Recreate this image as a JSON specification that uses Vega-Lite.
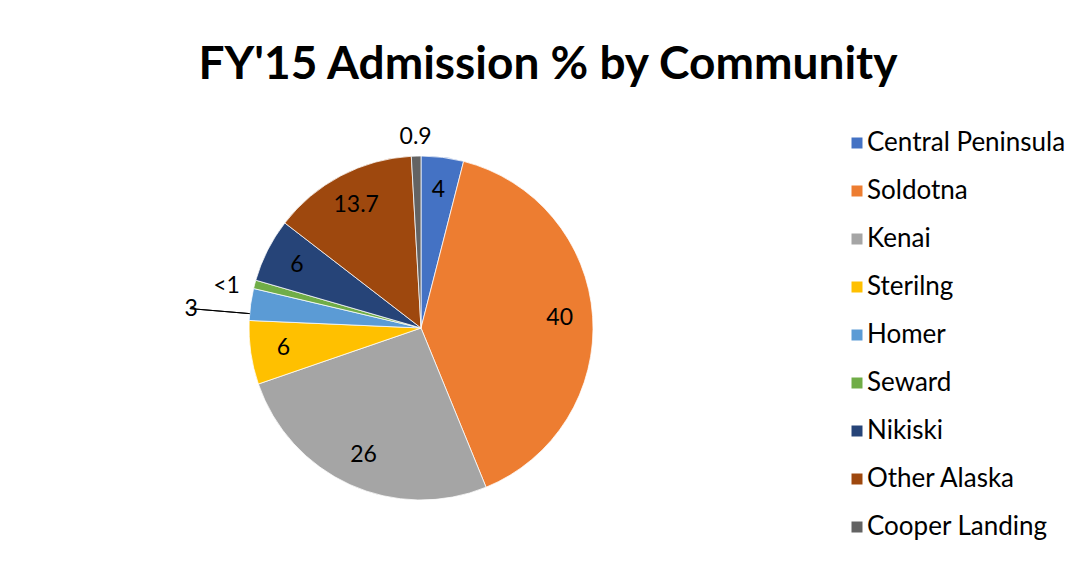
{
  "$schema": "https://vega.github.io/schema/vega-lite/v6.json",
  "autosize": "none",
  "width": 344,
  "height": 344,
  "padding": {"left": 249, "top": 156, "right": 491, "bottom": 61},
  "background": "white",
  "title": {
    "text": "FY'15 Admission % by Community",
    "anchor": "middle",
    "frame": "group",
    "dx": 127,
    "offset": 9,
    "font": "Lato",
    "fontSize": 46,
    "fontWeight": "bold",
    "color": "#000000"
  },
  "data": {
    "values": [
      {"name": "Central Peninsula", "value": 4, "label": "4"},
      {"name": "Soldotna", "value": 40, "label": "40"},
      {"name": "Kenai", "value": 26, "label": "26"},
      {"name": "Sterilng", "value": 6, "label": "6"},
      {"name": "Homer", "value": 3, "label": "3"},
      {"name": "Seward", "value": 0.8, "label": "<1"},
      {"name": "Nikiski", "value": 6, "label": "6"},
      {"name": "Other Alaska", "value": 13.7, "label": "13.7"},
      {"name": "Cooper Landing", "value": 0.9, "label": "0.9"}
    ]
  },
  "transform": [{"window": [{"op": "row_number", "as": "idx"}]}],
  "layer": [
    {
      "mark": {"type": "arc", "outerRadius": 172, "stroke": "#ffffff", "strokeWidth": 0.75},
      "encoding": {
        "theta": {"field": "value", "type": "quantitative", "stack": true},
        "order": {"field": "idx", "type": "quantitative"},
        "color": {
          "field": "name",
          "type": "nominal",
          "scale": {
            "domain": ["Central Peninsula", "Soldotna", "Kenai", "Sterilng", "Homer", "Seward", "Nikiski", "Other Alaska", "Cooper Landing"],
            "range": ["#4472C4", "#ED7D31", "#A5A5A5", "#FFC000", "#5B9BD5", "#70AD47", "#264478", "#9E480E", "#636363"]
          },
          "legend": {
            "title": null,
            "orient": "none",
            "legendX": 595,
            "legendY": -26,
            "symbolType": "square",
            "symbolSize": 121,
            "symbolStrokeWidth": 0,
            "symbolOpacity": 1,
            "labelFont": "Lato",
            "labelFontSize": 26,
            "labelColor": "#000000",
            "labelOffset": -3,
            "rowPadding": 22,
            "padding": 0,
            "labelLimit": 300
          }
        }
      }
    },
    {
      "mark": {"type": "text", "font": "Lato", "fontSize": 23, "color": "#000000", "align": "center", "baseline": "middle"},
      "encoding": {
        "theta": {"field": "value", "type": "quantitative", "stack": true},
        "order": {"field": "idx", "type": "quantitative"},
        "radius": {"value": 139},
        "text": {"field": "label"},
        "opacity": {"condition": {"test": "datum.name !== 'Homer' && datum.name !== 'Seward' && datum.name !== 'Cooper Landing'", "value": 1}, "value": 0}
      }
    },
    {
      "mark": {"type": "text", "font": "Lato", "fontSize": 23, "color": "#000000", "align": "center", "baseline": "middle"},
      "encoding": {
        "theta": {"field": "value", "type": "quantitative", "stack": true},
        "order": {"field": "idx", "type": "quantitative"},
        "radius": {"value": 191},
        "text": {"field": "label"},
        "opacity": {"condition": {"test": "datum.name === 'Cooper Landing'", "value": 1}, "value": 0}
      }
    },
    {
      "mark": {"type": "text", "font": "Lato", "fontSize": 23, "color": "#000000", "align": "center", "baseline": "middle", "dy": 9},
      "encoding": {
        "theta": {"field": "value", "type": "quantitative", "stack": true},
        "order": {"field": "idx", "type": "quantitative"},
        "radius": {"value": 201},
        "text": {"field": "label"},
        "opacity": {"condition": {"test": "datum.name === 'Seward'", "value": 1}, "value": 0}
      }
    },
    {
      "mark": {"type": "text", "font": "Lato", "fontSize": 23, "color": "#000000", "align": "center", "baseline": "middle", "dy": 13},
      "encoding": {
        "theta": {"field": "value", "type": "quantitative", "stack": true},
        "order": {"field": "idx", "type": "quantitative"},
        "radius": {"value": 232},
        "text": {"field": "label"},
        "opacity": {"condition": {"test": "datum.name === 'Homer'", "value": 1}, "value": 0}
      }
    },
    {
      "transform": [
        {"stack": "value", "groupby": [], "sort": [{"field": "idx", "order": "ascending"}], "as": ["v0", "v1"]},
        {"filter": "datum.name === 'Homer'"}
      ],
      "mark": {"type": "arc", "innerRadius": 172, "outerRadius": 232, "stroke": "#000000", "strokeWidth": 1, "fill": null, "thetaOffset": 0.04, "theta2Offset": 0.04},
      "encoding": {
        "theta": {"field": "v0", "type": "quantitative", "stack": null},
        "theta2": {"field": "v0"}
      }
    }
  ],
  "config": {"view": {"stroke": null}}
}
